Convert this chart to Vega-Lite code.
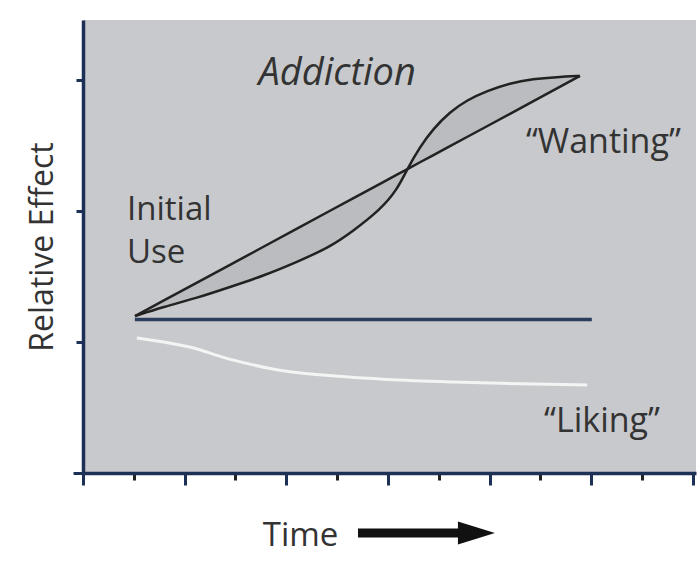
{
  "$schema": "https://vega.github.io/schema/vega-lite/v6.json",
  "width": 613,
  "height": 453,
  "autosize": {"type": "none"},
  "padding": {"left": 83, "top": 20, "right": 4, "bottom": 97},
  "background": "white",
  "config": {"view": {"fill": "#c8c9cc", "stroke": null}, "font": "Open Sans"},
  "datasets": {
    "wanting": [
      {"t": 1.023, "v": 1.198, "v2": 1.198},
      {"t": 1.574, "v": 1.267, "v2": 1.314},
      {"t": 2.243, "v": 1.336, "v2": 1.454},
      {"t": 2.892, "v": 1.420, "v2": 1.589},
      {"t": 3.541, "v": 1.504, "v2": 1.725},
      {"t": 4.210, "v": 1.611, "v2": 1.866},
      {"t": 4.860, "v": 1.725, "v2": 2.002},
      {"t": 5.312, "v": 1.847, "v2": 2.096},
      {"t": 5.843, "v": 2.008, "v2": 2.207},
      {"t": 6.177, "v": 2.160, "v2": 2.277},
      {"t": 6.374, "v": 2.318, "v2": 2.318},
      {"t": 6.630, "v": 2.489, "v2": 2.372},
      {"t": 6.886, "v": 2.626, "v2": 2.425},
      {"t": 7.220, "v": 2.756, "v2": 2.495},
      {"t": 7.555, "v": 2.847, "v2": 2.565},
      {"t": 7.948, "v": 2.916, "v2": 2.647},
      {"t": 8.401, "v": 2.977, "v2": 2.742},
      {"t": 8.853, "v": 3.008, "v2": 2.837},
      {"t": 9.325, "v": 3.023, "v2": 2.936},
      {"t": 9.778, "v": 3.031, "v2": 3.031}
    ],
    "liking": [
      {"t": 1.06, "v": 1.031},
      {"t": 1.71, "v": 0.992},
      {"t": 2.24, "v": 0.954},
      {"t": 2.70, "v": 0.885},
      {"t": 3.34, "v": 0.824},
      {"t": 4.01, "v": 0.771},
      {"t": 4.66, "v": 0.748},
      {"t": 5.98, "v": 0.710},
      {"t": 7.28, "v": 0.695},
      {"t": 8.60, "v": 0.679},
      {"t": 9.92, "v": 0.672}
    ],
    "baseline": [
      {"t": 1.02, "v": 1.172},
      {"t": 10.01, "v": 1.172}
    ],
    "labels": [
      {"label": "Addiction", "t": 5.0, "v": 2.962},
      {"label": "Initial", "t": 0.866, "v": 1.931},
      {"label": "Use", "t": 0.866, "v": 1.603},
      {"label": "“Wanting”", "t": 11.76, "v": 2.443},
      {"label": "“Liking”", "t": 11.35, "v": 0.313}
    ],
    "arrow": [
      {"t": 5.41, "t2": 7.45, "v": -0.458}
    ],
    "arrowhead": [
      {"t": 7.74, "v": -0.458}
    ]
  },
  "encoding": {
    "x": {
      "field": "t",
      "type": "quantitative",
      "scale": {"domain": [0, 12.06], "nice": false, "zero": false},
      "axis": {
        "values": [0, 1, 2, 3, 4, 5, 6, 7, 8, 9, 10, 11, 12],
        "labels": false,
        "grid": false,
        "domainColor": "#1d3157",
        "domainWidth": 3.5,
        "tickColor": {"condition": {"test": "datum.value % 2 === 0", "value": "#1d3157"}, "value": "#222222"},
        "tickSize": {"condition": {"test": "datum.value % 2 === 0", "value": 12}, "value": 7},
        "tickWidth": 3,
        "title": "Time",
        "titleFont": "Open Sans",
        "titleFontSize": 33,
        "titleFontWeight": "normal",
        "titleColor": "#333333",
        "titleX": 217,
        "titleY": 72,
        "titleBaseline": "alphabetic",
        "titleAlign": "center"
      }
    },
    "y": {
      "field": "v",
      "type": "quantitative",
      "scale": {"domain": [0, 3.458], "nice": false, "zero": false},
      "axis": {
        "values": [0, 1, 2, 3],
        "labels": false,
        "grid": false,
        "domainColor": "#1d3157",
        "domainWidth": 3.5,
        "tickColor": "#1d3157",
        "tickWidth": 3,
        "tickSize": {"condition": {"test": "datum.value === 0", "value": 10}, "value": 7},
        "title": "Relative Effect",
        "titleFont": "Open Sans",
        "titleFontSize": 32,
        "titleFontWeight": "normal",
        "titleColor": "#333333",
        "titlePadding": 12
      }
    }
  },
  "layer": [
    {
      "data": {"name": "wanting"},
      "mark": {"type": "area", "interpolate": "basis", "color": "#bbbcbf"},
      "encoding": {"y2": {"field": "v2"}}
    },
    {
      "data": {"name": "wanting"},
      "mark": {"type": "line", "color": "#222222", "strokeWidth": 2.5},
      "encoding": {"y": {"field": "v2", "type": "quantitative"}}
    },
    {
      "data": {"name": "wanting"},
      "mark": {"type": "line", "interpolate": "basis", "color": "#222222", "strokeWidth": 2.5},
      "encoding": {}
    },
    {
      "data": {"name": "baseline"},
      "mark": {"type": "line", "color": "#2a3d5e", "strokeWidth": 3.5},
      "encoding": {}
    },
    {
      "data": {"name": "liking"},
      "mark": {"type": "line", "interpolate": "basis", "color": "#f4f4f4", "strokeWidth": 3},
      "encoding": {}
    },
    {
      "data": {"name": "labels"},
      "transform": [{"filter": "datum.label === 'Addiction'"}],
      "mark": {"type": "text", "font": "Open Sans", "fontStyle": "italic", "fontSize": 38, "color": "#333333", "align": "center", "baseline": "alphabetic"},
      "encoding": {"text": {"field": "label"}}
    },
    {
      "data": {"name": "labels"},
      "transform": [{"filter": "datum.label === 'Initial' || datum.label === 'Use'"}],
      "mark": {"type": "text", "font": "Open Sans", "fontSize": 33, "color": "#333333", "align": "left", "baseline": "alphabetic"},
      "encoding": {"text": {"field": "label"}}
    },
    {
      "data": {"name": "labels"},
      "transform": [{"filter": "datum.label === '“Wanting”' || datum.label === '“Liking”'"}],
      "mark": {"type": "text", "font": "Open Sans", "fontSize": 34, "color": "#333333", "align": "right", "baseline": "alphabetic"},
      "encoding": {"text": {"field": "label"}}
    },
    {
      "data": {"name": "arrow"},
      "mark": {"type": "rule", "color": "#111111", "strokeWidth": 9},
      "encoding": {"x2": {"field": "t2"}}
    },
    {
      "data": {"name": "arrowhead"},
      "mark": {"type": "point", "filled": true, "color": "#111111", "opacity": 1, "size": 1369, "shape": "M-1,-0.62L1,0L-1,0.62Z"},
      "encoding": {}
    }
  ]
}
